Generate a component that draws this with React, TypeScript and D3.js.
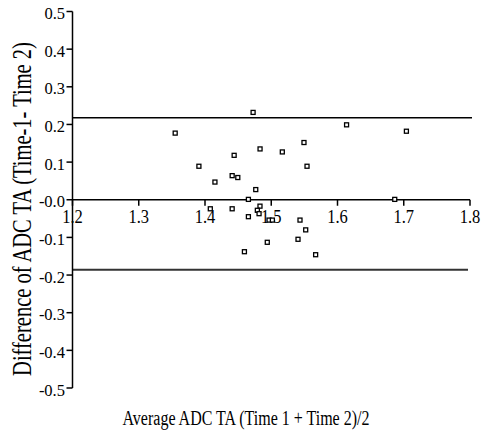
import React from "react";
import * as d3 from "d3";

const avgValues = [1.4726, 1.355, 1.5494, 1.4831, 1.5167, 1.444, 1.3908, 1.554, 1.415, 1.441, 1.4495, 1.4766, 1.4655, 1.408, 1.441, 1.483, 1.479, 1.4816, 1.4655, 1.4967, 1.5017, 1.5434, 1.552, 1.5404, 1.494, 1.4595, 1.567, 1.6137, 1.704, 1.6864];
const diffValues = [0.232, 0.177, 0.152, 0.135, 0.127, 0.118, 0.089, 0.089, 0.047, 0.064, 0.059, 0.027, 0.001, -0.024, -0.024, -0.017, -0.028, -0.037, -0.045, -0.054, -0.054, -0.054, -0.08, -0.105, -0.113, -0.138, -0.146, 0.199, 0.182, 0.001];
const upperLimit = 0.218;
const lowerLimit = -0.186;
const xTicks = [1.2, 1.3, 1.4, 1.5, 1.6, 1.7, 1.8];
const yTicks = [0.5, 0.4, 0.3, 0.2, 0.1, 0.0, -0.1, -0.2, -0.3, -0.4, -0.5];
const xTitle = "Average ADC TA (Time 1 + Time 2)/2";
const yTitle = "Difference of ADC TA (Time-1- Time 2)";

export default function App() {
  const W = 481, H = 434;
  const x = d3.scaleLinear().domain([1.2, 1.8]).range([72.5, 470]);
  const y = d3.scaleLinear().domain([-0.5, 0.5]).range([388, 11.5]);
  const font = "Liberation Serif, Times New Roman, serif";
  const ts = { fontFamily: font } as React.CSSProperties;
  const fmtY = (v: number) => (Math.abs(v) < 1e-9 ? "-0.0" : v.toFixed(1));
  return (
    <svg width={W} height={H} style={{ position: "absolute", left: 0, top: 0, background: "#fff" }}>
      <rect width={W} height={H} fill="#fff" />
      {/* limit lines */}
      <line x1={x(1.2)} x2={472} y1={y(upperLimit)} y2={y(upperLimit)} stroke="#000" strokeWidth={1.5} />
      <line x1={x(1.2)} x2={468} y1={y(lowerLimit)} y2={y(lowerLimit)} stroke="#333" strokeWidth={2} />
      {/* y axis */}
      <line x1={x(1.2)} x2={x(1.2)} y1={y(0.5)} y2={y(-0.5)} stroke="#000" strokeWidth={1.5} />
      {yTicks.map((t) => (
        <g key={"y" + t}>
          <line x1={x(1.2) - 6} x2={x(1.2)} y1={y(t)} y2={y(t)} stroke="#000" strokeWidth={1.5} />
          <text x={x(1.2) - 7.5} y={y(t) + 7.5} textAnchor="end" fontSize={16.5} fill="#000" style={ts}>{fmtY(t)}</text>
        </g>
      ))}
      {/* x axis */}
      <line x1={x(1.2)} x2={x(1.8)} y1={y(0)} y2={y(0)} stroke="#000" strokeWidth={1.5} />
      {xTicks.map((t) => (
        <g key={"x" + t}>
          <line x1={x(t)} x2={x(t)} y1={y(0)} y2={y(0) + 6} stroke="#000" strokeWidth={1.5} />
          <text transform={`translate(${x(t)},${y(0) + 23}) scale(1,1.2)`} textAnchor="middle" fontSize={16.5} fill="#000" style={ts}>{t.toFixed(1)}</text>
        </g>
      ))}
      {/* points */}
      {avgValues.map((a, i) => (
        <rect key={"p" + i} x={x(a) - 2} y={y(diffValues[i]) - 2} width={4} height={4} fill="#fff" stroke="#000" strokeWidth={1.3} />
      ))}
      {/* titles */}
      <text transform="translate(246,425) scale(1,1.25)" textAnchor="middle" fontSize={16} fill="#000" style={ts}>{xTitle}</text>
      <text transform="translate(31,209) rotate(-90) scale(1,1.3)" textAnchor="middle" fontSize={20.5} fill="#000" style={ts}>{yTitle}</text>
    </svg>
  );
}
